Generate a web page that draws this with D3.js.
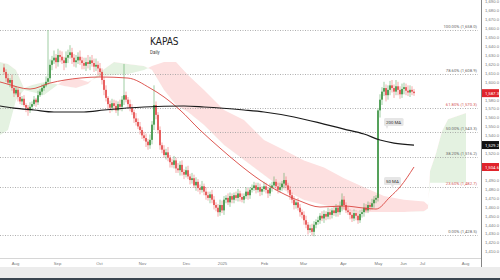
<!DOCTYPE html>
<html>
<head>
<meta charset="utf-8">
<script src="https://cdn.jsdelivr.net/npm/d3@7"></script>
<style>
body { margin: 0; background: #fff; }
svg { display: block; font-family: "Roboto", "DejaVu Sans", sans-serif; }
</style>
</head>
<body>
<script>
var width = 500, height = 280,
    plotRight = 481, plotBottom = 258;

// daily closes, one per trading day (open = previous close)
var closes = [
  1611,1604,1599,1602,1593,1587,1591,1583,1578,1581,1574,1571,1568,1572,
  1575,1580,1577,1585,1589,1593,1596,1600,1604,
  1619,1624,1627,1622,1630,1628,1624,1621,1627,1630,1633,1627,1622,1624,1628,1624,1621,1618,1622,1620,1624,1621,1617,1619,1615,1611,
  1602,1591,1582,1575,1571,
  1576,1573,1568,1575,1572,1580,1585,
  1580,1575,1571,1566,1559,1555,1550,1546,1540,1537,1533,1529,1535,
  1552,1574,1563,1546,1529,
  1524,1518,1521,1515,1510,1507,1512,1503,1501,1507,1499,1496,1501,
  1494,1490,1492,1484,1488,1481,1479,1483,1477,1473,1470,1474,1468,1462,1459,
  1454,1462,1456,1468,1470,1465,1472,1468,
  1473,1470,1475,1471,1468,1472,1477,1473,1479,1481,
  1484,1479,1482,1477,1480,1483,1479,1475,1481,1484,1488,1483,1479,1482,1486,1490,1484,1479,1473,
  1468,1462,1465,1459,1454,1451,
  1445,1440,1434,1436,1432,1440,1443,
  1445,1450,1447,1452,1449,1454,1451,1456,1453,1459,1454,1461,
  1468,1462,1456,
  1454,1451,1447,1453,1450,1445,1452,1454,1459,1456,
  1462,1460,1464,1468,1470,
  1568,
  1580,1589,1593,1585,1591,
  1596,1593,1589,1595,1591,1586,1592,1594,1590,1588,1591,1589,1587.3
];

// upper and lower wick lengths per day
var upWick = [
  4,3,5,2,6,3,4,2,5,3,4,2,3,5,
  3,4,2,5,3,4,2,6,4,
  6,5,8,4,7,5,6,4,7,6,8,5,4,6,5,7,4,6,5,8,4,6,5,7,4,6,
  4,3,5,2,4,
  5,4,6,3,5,4,3,
  4,3,5,4,3,6,4,5,3,4,5,3,6,
  4,5,4,3,4,
  3,5,4,6,3,4,5,3,6,4,5,3,4,
  5,3,6,4,5,3,4,6,3,5,4,3,5,4,3,
  4,6,5,4,3,5,4,3,
  3,4,5,3,4,3,5,4,3,4,
  4,3,5,4,3,5,4,3,5,4,6,3,4,5,3,8,4,3,4,
  3,4,3,5,4,3,
  4,5,3,4,5,4,3,
  4,3,5,4,3,5,4,3,5,4,3,5,
  6,4,3,
  4,3,5,4,3,5,4,3,5,4,
  4,3,5,4,3,
  2,
  6,5,7,4,5,
  5,6,4,7,5,4,6,5,4,6,5,4,3
];
var downWick = [
  3,4,2,5,3,4,2,5,3,4,2,5,6,3,
  4,2,5,3,2,4,3,2,3,
  5,6,4,7,5,6,4,8,5,6,4,7,5,6,4,5,7,4,6,5,7,4,6,5,7,5,
  5,6,4,5,6,
  4,5,3,6,4,5,6,
  3,5,4,3,5,4,3,5,4,3,6,5,4,
  5,6,5,4,5,
  4,3,5,4,6,3,4,5,3,6,4,5,3,
  3,5,4,3,6,4,5,3,4,5,3,6,4,5,4,
  5,4,3,5,4,3,5,4,
  4,3,4,5,3,4,3,5,4,3,
  3,4,3,5,4,3,4,5,3,4,3,5,4,3,4,5,3,4,5,
  4,5,4,3,5,4,
  5,4,5,3,4,5,4,
  3,4,3,5,4,3,5,4,3,4,5,3,
  4,5,3,
  3,5,4,3,5,4,3,4,5,3,
  3,4,3,5,4,
  3,
  8,6,5,7,5,
  6,5,7,4,6,5,4,6,5,4,5,4,3
];

// notable wick extremes [day, high, low]
var spikes = [[22, 1658, 1598], [60, 1620, 1577], [75, 1596, 1550], [154, 1436, 1428.5], [169, 1475, 1455], [187, 1570, 1466]];

// moving averages sampled at [day, value]
var ma200 = [[-2,1572.9],[5,1570.6],[15,1568.4],[25,1566.2],[40,1566.2],[50,1568.4],[70,1571.8],[90,1572.9],[100,1571.8],[120,1568.4],[130,1566.2],[145,1560.6],[160,1552.7],[170,1547.1],[180,1541.5],[188,1534.8],[195,1531.4],[205,1529.2]];
var ma50 = [[-2,1599.8],[0,1598.6],[13,1591.9],[23,1598.6],[38,1604.2],[48,1605.4],[62,1604.2],[73,1593],[80,1583],[88,1568.4],[98,1546],[108,1525.8],[118,1506.8],[128,1490],[138,1476.6],[148,1466.5],[158,1459.8],[170,1460.9],[180,1458.6],[186,1457.5],[193,1471],[198,1482.2],[205,1504.6]];

// ichimoku cloud [day, span A, span B]
var cloud = [[-2,1622.2,1540.4],[2,1619.9,1546],[6,1613.2,1579.6],[10,1593,1590.8],[14,1596.4,1588.6],[20,1599.8,1585.2],[26,1597.5,1595.3],[30,1595.3,1602],[36,1593,1604.2],[42,1597.5,1599.8],[48,1611,1606.5],[55,1622.2,1607.6],[62,1619.9,1608.7],[70,1617.7,1613.2],[74,1613.2,1617.7],[80,1590.8,1622.2],[86,1574,1622.2],[92,1566.2,1607.6],[100,1551.6,1590.8],[110,1529.2,1568.4],[120,1512.4,1557.2],[130,1495.6,1534.8],[140,1478.8,1523.6],[150,1467.6,1512],[160,1462,1504],[170,1456.4,1492],[180,1454.2,1482],[190,1454.2,1472],[200,1454.2,1468],[210,1455,1466],[212,1458,1462],[213,1500,1487],[216,1520,1487],[219,1545,1487],[222,1558,1487],[231,1565,1487]];

var fibHigh = 1658.0, fibLow = 1428.5;
var fibRatios = [1, 0.786, 0.618, 0.5, 0.382, 0.236, 0];
var fibRed = [0.618, 0.236];

var monthLabels = ["Aug","Sep","Oct","Nov","Dec","2025","Feb","Mar","Apr","May","Jun","Jul","Aug"];
var monthDays = [5.5, 26.5, 47.5, 69, 91, 109, 130, 149.5, 169.5, 187, 199.5, 209, 230.5];

var priceTicks = d3.range(1410, 1691, 10);

var x = d3.scaleLinear().domain([-2, 238.5]).range([0, plotRight]);
var y = d3.scaleLinear().domain([1402.7, 1691.6]).range([plotBottom, 0]);

var svg = d3.select("body").append("svg")
  .attr("width", width).attr("height", height);

svg.append("rect").attr("width", width).attr("height", height).attr("fill", "#fff");

// bottom strip
svg.append("rect").attr("x", 0).attr("y", 267).attr("width", width).attr("height", 11).attr("fill", "#ececec");
svg.append("rect").attr("x", 0).attr("y", 278).attr("width", width).attr("height", 2).attr("fill", "#3b4650");

var plot = svg.append("g");

/******** CLOUD ********/
var defs = svg.append("defs");
defs.append("clipPath").attr("id", "belowA").append("path")
  .attr("d", d3.area().x(function (d) { return x(d[0]); }).y0(plotBottom).y1(function (d) { return y(d[1]); })(cloud));
defs.append("clipPath").attr("id", "aboveA").append("path")
  .attr("d", d3.area().x(function (d) { return x(d[0]); }).y0(0).y1(function (d) { return y(d[1]); })(cloud));

var band = d3.area()
  .x(function (d) { return x(d[0]); })
  .y0(function (d) { return y(d[1]); })
  .y1(function (d) { return y(d[2]); });

plot.append("path").attr("d", band(cloud)).attr("clip-path", "url(#belowA)").attr("fill", "#e4f2e1");
plot.append("path").attr("d", band(cloud)).attr("clip-path", "url(#aboveA)").attr("fill", "#fde0e0");

/******** FIB LEVELS ********/
var fmt = d3.format(",.1f");
fibRatios.forEach(function (r) {
  var v = fibLow + (fibHigh - fibLow) * r;
  plot.append("line")
    .attr("x1", 0).attr("x2", plotRight - 3)
    .attr("y1", Math.round(y(v)) + 0.5).attr("y2", Math.round(y(v)) + 0.5)
    .attr("stroke", "#9a9a9a").attr("stroke-width", 0.8)
    .attr("stroke-dasharray", "1,1.5");
  plot.append("text")
    .attr("x", plotRight - 4).attr("y", y(v) - 2)
    .attr("text-anchor", "end")
    .attr("font-size", 4.2)
    .attr("fill", fibRed.indexOf(r) >= 0 ? "#d45a5a" : "#666")
    .text(d3.format(".2f")(r * 100) + "% (" + fmt(v) + ")");
});

/******** CANDLES ********/
var candles = closes.map(function (c, i) {
  var o = i === 0 ? 1616 : closes[i - 1];
  var hi = Math.max(o, c) + upWick[i], lo = Math.min(o, c) - downWick[i];
  spikes.forEach(function (s) { if (s[0] === i) { hi = Math.max(hi, s[1]); lo = Math.min(lo, s[2]); } });
  return { i: i, o: o, c: c, h: hi, l: lo };
});

var cg = plot.append("g").selectAll("g").data(candles).enter().append("g");
cg.append("line")
  .attr("x1", function (d) { return x(d.i); })
  .attr("x2", function (d) { return x(d.i); })
  .attr("y1", function (d) { return y(d.h); })
  .attr("y2", function (d) { return y(d.l); })
  .attr("stroke", function (d) { return d.c >= d.o ? "#3c9a44" : "#e85050"; })
  .attr("stroke-width", 0.5);
cg.append("rect")
  .attr("x", function (d) { return x(d.i) - 0.75; })
  .attr("width", 1.5)
  .attr("y", function (d) { return y(Math.max(d.o, d.c)); })
  .attr("height", function (d) { return Math.max(0.8, Math.abs(y(d.o) - y(d.c))); })
  .attr("fill", function (d) { return d.c >= d.o ? "#2e8b35" : "#e23b3b"; });

/******** MOVING AVERAGES ********/
var maLine = d3.line()
  .x(function (d) { return x(d[0]); })
  .y(function (d) { return y(d[1]); })
  .curve(d3.curveMonotoneX);

plot.append("path").attr("d", maLine(ma50)).attr("fill", "none").attr("stroke", "#d9453f").attr("stroke-width", 0.9);
plot.append("path").attr("d", maLine(ma200)).attr("fill", "none").attr("stroke", "#1a1a1a").attr("stroke-width", 1.2);

function maTag(txt, day, val, dy, px) {
  var w = txt.length * 2.6 + 4;
  var g = plot.append("g").attr("transform", "translate(" + x(day) + "," + (y(val) + dy) + ")");
  g.append("path").attr("d", "M" + px + ",3.5 L" + (px + 1.5) + ",7 L" + (px + 3) + ",3.5 Z").attr("fill", "#e6e6e6");
  g.append("rect").attr("x", 0).attr("y", -4).attr("width", w).attr("height", 8)
    .attr("rx", 1.5).attr("fill", "#e6e6e6");
  g.append("text").attr("x", 2).attr("y", 1.6).attr("font-size", 4.4).attr("fill", "#333").text(txt);
}
maTag("200 MA", 190, 1534.8, -18, 1.5);
maTag("50 MA", 190, 1471, -16, 7);

/******** TITLE ********/
svg.append("text").attr("x", 150).attr("y", 45).attr("font-size", 10)
  .attr("font-family", "'DejaVu Sans Condensed', 'Roboto', sans-serif").attr("fill", "#222").text("KAPAS");
svg.append("text").attr("x", 150).attr("y", 54).attr("font-size", 4.5).attr("fill", "#444").text("Daily");

/******** AXES ********/
svg.append("line").attr("x1", plotRight + 0.5).attr("x2", plotRight + 0.5).attr("y1", 0).attr("y2", 267)
  .attr("stroke", "#666").attr("stroke-width", 0.8);
svg.append("line").attr("x1", 0).attr("x2", plotRight).attr("y1", plotBottom + 0.5).attr("y2", plotBottom + 0.5)
  .attr("stroke", "#bbb").attr("stroke-width", 0.6);

// price tags on the right axis hide the tick labels behind them
var tagValues = [closes[closes.length - 1], ma200[ma200.length - 1][1], ma50[ma50.length - 1][1]];
var shownTicks = priceTicks.filter(function (t) {
  return tagValues.every(function (v) { return Math.abs(y(t) - y(v)) > 6; });
});

var yAxis = svg.append("g").attr("transform", "translate(" + plotRight + ",0)")
  .call(d3.axisRight(y).tickValues(shownTicks).tickSize(0).tickPadding(4).tickFormat(fmt));
yAxis.select(".domain").remove();
yAxis.selectAll("text").attr("font-size", 4.2).attr("fill", "#777");

var xAxis = svg.append("g").attr("transform", "translate(0," + plotBottom + ")")
  .call(d3.axisBottom(x).tickValues(monthDays).tickSize(0).tickPadding(4)
    .tickFormat(function (d, i) { return monthLabels[i]; }));
xAxis.select(".domain").remove();
xAxis.selectAll("text").attr("font-size", 4.2).attr("fill", "#777");

/******** PRICE TAGS ********/
function priceTag(val, bg) {
  var g = svg.append("g").attr("transform", "translate(" + (plotRight + 1) + "," + y(val) + ")");
  g.append("rect").attr("x", 0).attr("y", -4).attr("width", 17).attr("height", 8).attr("fill", bg);
  g.append("text").attr("x", 3).attr("y", 1.6).attr("font-size", 4.3).attr("fill", "#fff").text(fmt(val));
}
priceTag(tagValues[0], "#e0242b");
priceTag(tagValues[1], "#111");
priceTag(tagValues[2], "#e0242b");
</script>
</body>
</html>
